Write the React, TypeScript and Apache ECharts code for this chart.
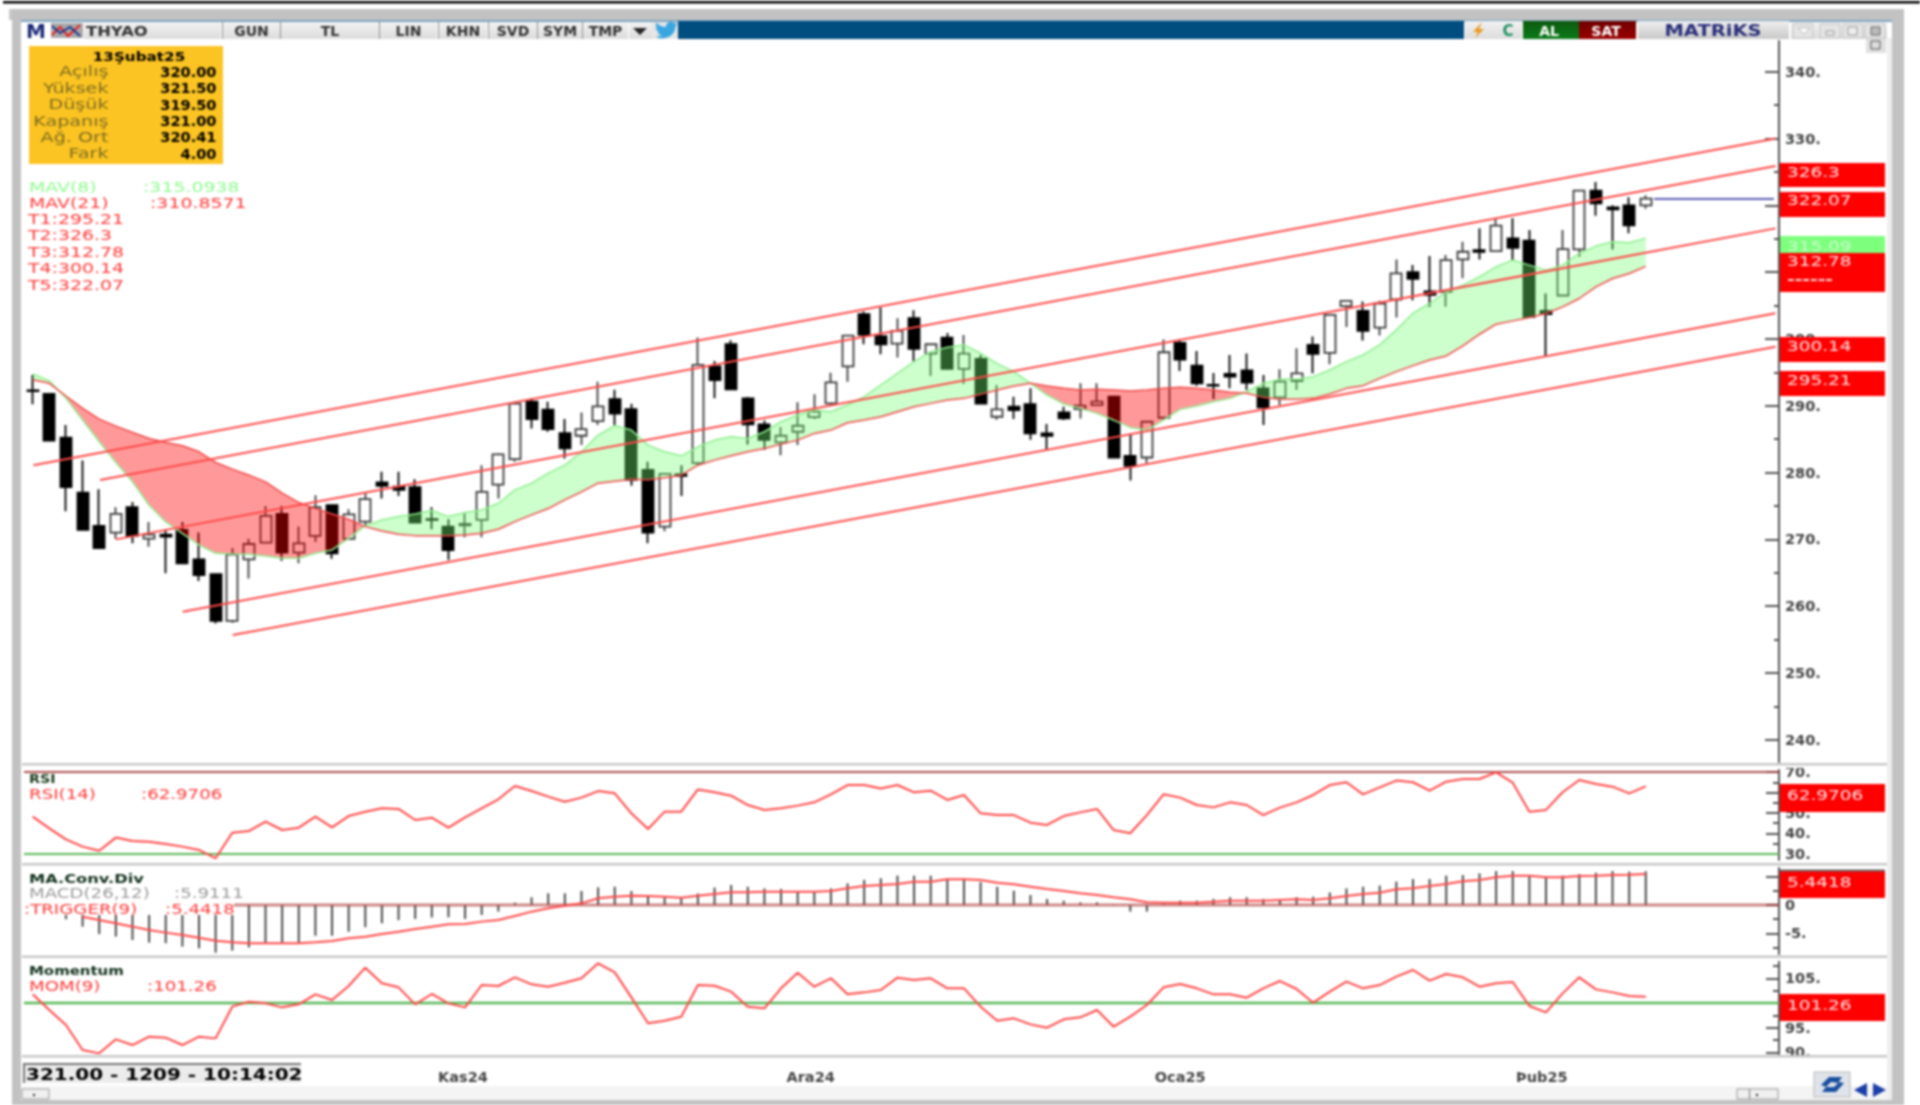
import React, { useEffect, useRef } from "react";
import * as echarts from "echarts";

// ---------- candle data, TL ----------
const opens = [292.3,291.75,285.2,277,272,271,274.8,270.1,270.7,271.4,267,264.8,257.8,267,269.5,273.8,268,270.5,275.1,270.05,272.64,278.5,277.9,277.8,273,271.9,272.1,272.9,278.2,282,290.6,289.4,285.9,285.5,287.7,291,289.5,280.4,271.9,279.7,281.4,295.9,299.2,291.1,287.2,284.5,286.1,288.3,290.35,295.9,303.7,300.4,299.3,303.1,297.8,300.2,295.5,297,288.35,289.85,290.25,285.85,289,289.5,290.1,291.35,282.5,282.25,288.2,299.4,296,293.1,294.75,295.3,292.6,291.25,293.7,299.1,297.9,304.9,304.2,301.7,305.9,310,307.1,307.05,311.9,313.3,313.15,315.05,314.7,304.2,306.5,313.4,322.2,319.7,320,320];
const highs = [294.6,291.8,287.1,281.8,277.5,274.8,275.6,272.6,271.4,272.6,271,264.9,268.7,270.1,275,275,271.9,276.6,275.2,274.5,276.9,280.1,280.1,279,274.8,273,273.9,281.1,282.9,290.4,291.1,290.6,288,289,293.6,292.4,290.3,281.6,279.9,281.1,300.2,296.7,299.8,291.3,287.8,286.8,290.5,291.7,294.95,300.6,304.1,304.7,303.1,304.3,299.3,300.9,300.6,297.6,293.1,291.35,292.6,287.25,289.85,293.35,293.35,291.45,285.6,287.6,299.9,299.9,298.2,294.9,297.6,297.8,294.6,295.45,298.6,300.35,303.7,305.8,305.6,305.7,311.9,311.05,312.4,312.55,314.55,316.55,318.05,318.05,316.3,306.8,316.3,322.3,323.5,320,321.2,321.5];
const lows = [290.2,284.7,274.2,271.4,268.7,270.1,269.4,268.9,264.9,266.3,263.75,257.4,257.5,264.15,269.4,266.8,266.4,269.6,267.1,270,271.9,276.1,276.5,272.5,271.5,266.9,270.3,270.3,276.1,281.6,286.6,286.1,282.1,284.1,287.1,287.1,278,269.4,271.2,276.5,281.1,291.1,292.3,284.2,283.4,282.6,284.1,288,290.1,293.6,299.2,297.7,297.2,296.7,294.45,295.5,293.25,290.3,287.9,288,284.9,283.35,287.85,288.1,289.95,282.2,278.8,281.4,288.2,295.2,293,291,292.6,292.35,287.1,290.1,292.35,294.85,296.2,301.8,299.75,300.5,303.2,305.8,304.8,304.8,309.1,311.9,313.1,311.7,303.3,297.4,306.4,312.3,318.45,313.4,315.8,319.5];
const closes = [292.2,284.76,277.8,271.4,268.7,273.8,270.5,270.7,270.4,266.4,264.65,257.8,267.7,269.3,273.5,268,269.4,274.8,267.9,273.74,276,278,277.4,272.5,272.9,268.4,272.3,277.1,282.7,290.3,288,286.5,283.6,286.5,289.9,288.8,278.9,271,279.8,279.5,296.1,293.85,292.45,287.2,284.9,285.5,287,289.1,293.5,300.5,300.6,299.2,301.2,298.5,299.2,295.5,297.8,290.3,289.45,289.35,285.85,285.5,288.1,290,290.6,282.25,281,287.6,298,296.9,293.35,293,294.35,293.45,289.75,293.6,294.85,297.75,303.6,305.7,301.2,305.3,309.8,309,306.6,311.8,313.05,313.05,316.95,313.65,303.3,303.7,313.45,322.2,320.3,319.4,317,321];

const mav8 = [294.75,293.75,291.1,287.85,284.6,281.5,278.6,275.1,272.6,270.9,269.15,267.9,267.8,267.75,267.5,267.15,267.15,267.9,268.4,270.15,272.05,272.9,273.4,273.8,274.3,273.4,274,274.4,275.4,277.4,278.4,279.9,281.1,283.1,285.6,287,286.35,284.1,283.1,282.5,283.85,284.85,285.35,285.1,286.1,287.6,288.6,289.35,289.1,290.1,291.35,293.1,294.85,296.6,298.1,298.75,299.1,297.85,296.3,295.1,293.35,291.6,290.25,289.6,288.85,287.85,286.75,286.35,287.85,289.45,289.95,290.6,291.1,292.1,293.35,293.95,293.95,294.35,295.35,296.6,297.6,299.1,301.35,303.85,305.3,307.05,308.05,309.3,310.8,311.8,311.05,310.3,311.05,312.8,313.9,314.55,314.4,315.09];
const mav21 = [293.9,293.35,291.45,289.6,288,286.95,286,285.1,284.5,284,283.1,281.5,280.5,279.6,278.6,276.9,275.5,274.6,273.8,273,271.9,271.25,270.75,270.55,270.55,270.55,270.65,270.9,271.5,272.65,273.65,274.6,275.9,277.1,278.4,278.7,279,278.9,279.2,279.6,281.1,281.85,282.5,283.1,283.6,284.25,284.85,285.85,286.35,287.45,287.85,288.35,289.1,289.85,290.35,290.85,291.1,291.7,292.35,292.95,293.35,292.95,292.6,292.35,292.45,292.35,292.2,292.35,292.6,292.75,292.6,292.35,292,291.85,291.25,290.95,290.95,291.1,291.75,292.6,293,294.1,295.1,296,296.85,297.45,298.95,300.7,302.2,302.7,303.2,303.8,304.8,306.05,307.8,309.05,309.8,310.86];

// trend channels: [index, price] end points
const trendT5 = [[0.04,281.1],[104.8,330]];
const trendT2 = [[4.05,278.87],[104.8,325.9]];
const trendT3 = [[5,269.99],[104.8,316.55]];
const trendT4 = [[9.02,259.16],[104.8,303.83]];
const trendT1 = [[12.03,255.67],[104.8,298.83]];
const lastPriceLine = [[97.5,320.95],[104.7,320.95]];

const rsi = [48.2,42.5,37.15,33.6,31.6,38,36.35,36,34.9,33.6,32,27.9,40.4,41.2,45.8,41.7,42.85,48.2,43,48.5,50.65,52.3,52,46.6,47.7,42.85,47.9,52.3,56.7,63.2,60.7,58,55.5,57.5,60.7,59.6,49.85,42.2,50.65,50.65,61.5,60.1,58.45,53.9,51.5,52.3,53.6,55.2,59.1,63.65,63.65,62,63.65,60.1,60.9,56.35,58.8,49.85,49,49,45.3,44.15,48.5,50.3,52,41.7,40.1,49,59.1,57.5,53.9,52.75,55.2,53.9,49,52.6,55.2,58.8,63.65,65,59.1,62.5,65.8,65,60.9,65.3,66.6,66.6,69.85,64.8,50.65,51.5,60.1,66.1,64.15,62.85,59.6,62.97];
const macd = [null,null,-2.5,-3.8,-5.1,-5.55,-6.15,-6.6,-6.7,-7.3,-7.6,-8.35,-8,-7.45,-6.7,-6.6,-6.6,-5.4,-5.4,-4.7,-3.9,-3.2,-2.65,-2.45,-2.2,-2.15,-2.45,-1.75,-1.15,0.4,1.35,2.05,2.05,2.45,3.1,3.2,2.45,1.45,1.35,1.35,2,3.05,3.5,3.2,2.9,2.8,2.45,2.35,2.9,3.8,4.4,4.7,5.15,5.15,5.15,4.55,4.55,4,3.2,2.5,1.75,1.05,0.75,0.45,0.45,-0.1,-1.15,-1.15,0.15,0.75,0.75,1.05,1.35,1.35,1.05,1.05,1.35,1.45,2.2,2.9,3.2,3.4,4.1,4.55,4.55,5.15,5.25,5.55,5.95,5.95,5.25,4.95,5.15,5.4,5.65,5.95,5.85,5.91];
const trigger = [null,null,null,-2.05,-2.63,-3.22,-3.8,-4.39,-4.85,-5.26,-5.73,-6.26,-6.55,-6.73,-6.73,-6.73,-6.73,-6.55,-6.32,-5.85,-5.56,-5.09,-4.68,-4.21,-3.8,-3.39,-3.33,-2.92,-2.63,-1.93,-1.17,-0.58,-0.12,0.29,1.17,1.46,1.64,1.58,1.46,1.29,1.64,1.93,2.22,2.22,2.34,2.34,2.34,2.34,2.46,2.92,3.33,3.51,3.68,4.09,4.09,4.5,4.5,4.39,3.92,3.63,3.22,2.81,2.46,2.05,1.75,1.35,0.99,0.47,0.41,0.41,0.41,0.58,0.76,0.76,0.76,0.88,0.99,0.88,1.17,1.58,1.93,2.16,2.75,2.92,3.33,3.68,4.15,4.39,4.85,5.15,5.15,4.85,4.85,5.09,5.15,5.26,5.32,5.44];
const momentum = [101.75,98.57,95.53,90.46,89.78,92.62,91.47,93.16,92.96,91.47,93.16,92.82,99.25,100.26,99.92,99.11,99.72,101.75,100.6,103.44,107.16,103.98,103.17,99.72,101.82,99.92,99.11,103.64,103.44,105.2,103.78,103.3,104.1,105,108.04,106.21,101.14,95.87,96.41,97.22,103.64,103.5,102.29,99.25,98.91,102.97,106.14,103.3,105,101.75,102.15,102.63,105.13,104.66,105,102.97,102.97,99.25,96.41,96.88,95.66,94.99,96.68,97.08,98.57,95.19,97.22,99.58,103.17,103.84,102.97,101.75,101.75,101.07,102.97,104.45,102.83,100.06,102.29,104.32,102.97,103.64,105.33,106.68,104.52,105.87,105.2,103.3,103.98,104.25,99.38,98.1,101.95,105.2,102.76,102.15,101.41,101.26];

// ---------- tick labels ----------
const priceTicks = [240,250,260,270,280,290,300,310,320,330,340];
const priceMinor = [245,255,265,275,285,295,305,315,325,335];
const rsiTicks = [30,40,50,60,70];
const rsiMinor = [35,45,55,65];
const macdTicks = [-5,0,5];
const macdMinor = [-7.5,-2.5,2.5];
const momTicks = [90,95,100,105];
const momMinor = [92.5,97.5,102.5,107.5];
const dateTicks = [25.87,46.78,69,90.75];
const dateLabels = ["Kas24","Ara24","Oca25","Þub25"];

const infoTitle = "13Şubat25";
const infoLabels = ["Açılış","Yüksek","Düşük","Kapanış","Ağ. Ort","Fark"];
const infoValues = ["320.00","321.50","319.50","321.00","320.41","4.00"];
const toolbarButtons: [string, number, number][] = [["GUN",223,57],["TL",281,98],["LIN",380,57],["KHN",439,48],["SVD",489,48],["SYM",538,44],["TMP",583,45]];

const FONT = '"DejaVu Sans"';
const XMIN = -0.523, XMAX = 105.01;
const RED_TEXT = "#ff3a3a";
const RED_LINE = "#ff4848";

echarts.graphic.registerShape("bird", echarts.graphic.extendPath("M23.95 4.57a10 10 0 0 1-2.82.77 4.96 4.96 0 0 0 2.16-2.72 9.9 9.9 0 0 1-3.12 1.18 4.92 4.92 0 0 0-8.38 4.48A13.98 13.98 0 0 1 1.64 3.16a4.92 4.92 0 0 0 1.52 6.57 4.9 4.9 0 0 1-2.23-.61v.06a4.92 4.92 0 0 0 3.95 4.83 5 5 0 0 1-2.21.08 4.93 4.93 0 0 0 4.6 3.42A9.87 9.87 0 0 1 0 19.54a13.94 13.94 0 0 0 7.55 2.21c9.06 0 14-7.5 14-14v-.64A10 10 0 0 0 24 4.59z", {}));

function rect(x: number, y: number, w: number, h: number, fill: any, z = 0, stroke?: string) {
  return { type: "rect", silent: true, z, shape: { x, y, width: w, height: h }, style: { fill, stroke: stroke || "none", lineWidth: stroke ? 1 : 0 } };
}
function txt(x: number, y: number, text: string, o: any = {}) {
  const size = o.size || 14;
  const align = o.align || "left";
  return { type: "text", silent: true, z: o.z ?? 60, x, y, scaleX: o.sx ?? 1.17, style: { text, x: 0, y: 0, fill: o.color || "#000", font: `${o.weight || "normal"} ${size}px ${FONT}`, align, textAlign: align, verticalAlign: "middle", textVerticalAlign: "middle" } };
}
const vGrad = (stops: [number, string][]) => ({ type: "linear", x: 0, y: 0, x2: 0, y2: 1, colorStops: stops.map(([offset, color]) => ({ offset, color })) });

function makeGraphics() {
  const g: any[] = [];
  // page furniture
  g.push(rect(3, 1, 1917, 2.5, "#000", -5));
  g.push(rect(9, 9, 1895, 11, "#c8c8c8", -5));
  g.push(rect(12, 9, 1892, 1096, "#c2c2c2", -5));
  g.push(rect(21, 20, 1871, 1080, "#ffffff", -4));
  g.push(rect(1887, 38, 5, 1062, "#eeeeee", -3));
  g.push(rect(21, 20, 1871, 2, "#7fa6c4", -3));
  // pane separators
  for (const y of [764, 864, 956.5, 1056]) g.push(rect(22, y - 1, 1865, 2.5, "#c8c8c8", 45));
  // toolbar
  const btn = vGrad([[0, "#f2f2f2"], [1, "#dcdcdc"]]);
  g.push(rect(21, 22, 31, 17, "#ffffff", 1));
  g.push(txt(36, 31, "M", { size: 20, weight: "bold", color: "#1c2a78", align: "center", sx: 1, z: 5 }));
  g.push(rect(51, 23, 32, 15, "#a8a8a8", 1));
  g.push({ type: "polyline", silent: true, z: 5, shape: { points: [[52, 35], [60, 27], [68, 36], [80, 25]] }, style: { stroke: "#e82020", lineWidth: 2, fill: "none" } });
  g.push({ type: "polyline", silent: true, z: 5, shape: { points: [[52, 26], [60, 33], [70, 27], [80, 36]] }, style: { stroke: "#1c3a90", lineWidth: 2, fill: "none" } });
  g.push(rect(84, 22, 137, 17, btn, 1));
  g.push(txt(86, 31, "THYAO", { size: 14, weight: "bold", color: "#333" }));
  toolbarButtons.forEach(([t, x, w]) => {
    g.push(rect(x, 22, w, 17, btn, 1));
    g.push({ type: "line", silent: true, z: 2, shape: { x1: x - 0.5, y1: 22, x2: x - 0.5, y2: 39 }, style: { stroke: "#8f8f8f", lineWidth: 1 } });
    g.push(txt(x + w / 2, 31, t, { size: 14, weight: "bold", color: "#333", align: "center", sx: 1 }));
  });
  g.push(rect(629, 22, 23, 17, btn, 1));
  g.push({ type: "polygon", silent: true, z: 5, shape: { points: [[633, 28], [647, 28], [640, 35]] }, style: { fill: "#222" } });
  g.push(rect(652, 22, 26, 17, "#e6e6e6", 1));
  g.push({ type: "bird", silent: true, z: 5, x: 655, y: 20, scaleX: 0.95, scaleY: 0.85, style: { fill: "#3aa6e0" } });
  g.push(rect(678, 21, 786, 18, "#004d80", 1));
  g.push(rect(1465, 21, 29, 18, btn, 1));
  g.push({ type: "polygon", silent: true, z: 5, shape: { points: [[1482, 22], [1473, 32], [1478, 32], [1475, 38], [1484, 29], [1479, 29]] }, style: { fill: "#e89a20" } });
  g.push(rect(1494, 21, 28, 18, btn, 1));
  g.push(txt(1508, 31, "C", { size: 15, weight: "bold", color: "#1d9060", align: "center", sx: 1 }));
  g.push(rect(1523, 21, 56, 18, vGrad([[0, "#0e5a0e"], [1, "#0a7a1a"]]), 1));
  g.push(txt(1549, 31, "AL", { size: 14, weight: "bold", color: "#ffffff", align: "center", sx: 1 }));
  g.push(rect(1579, 21, 57, 18, vGrad([[0, "#700000"], [1, "#990000"]]), 1));
  g.push(txt(1606, 31, "SAT", { size: 14, weight: "bold", color: "#ffffff", align: "center", sx: 1 }));
  g.push(rect(1638, 21, 151, 18, vGrad([[0, "#f0f0f0"], [1, "#c8c8c8"]]), 1));
  g.push(txt(1713, 31, "MATRiKS", { size: 15, weight: "bold", color: "#2a2f7a", align: "center", sx: 1.3 }));
  g.push(rect(1791, 22, 96, 17, btn, 1));
  for (const x of [1793, 1820, 1843, 1865]) g.push(rect(x, 24, 20, 14, "#e4e4e4", 2, "#c4c4c4"));
  g.push({ type: "polygon", silent: true, z: 5, shape: { points: [[1798, 28], [1810, 28], [1804, 34]] }, style: { fill: "#fff", stroke: "#bbb" } });
  g.push(rect(1826, 31, 8, 4, "#eee", 5, "#999"));
  g.push(rect(1848, 27, 9, 8, "#eee", 5, "#999"));
  g.push(rect(1871, 27, 9, 8, "#bbb", 5, "#666"));
  g.push(rect(1866, 39, 20, 14, "#e0e0e0", 5));
  g.push(rect(1871, 41, 9, 8, "#ddd", 6, "#555"));

  // info box
  g.push(rect(29, 46, 194, 118, "#fcc422", 50));
  g.push(txt(139, 56, infoTitle, { size: 13, weight: "bold", align: "center" }));
  infoLabels.forEach((t, i) => {
    const y = 72 + i * 16.4;
    g.push(txt(108.5, y, t, { size: 13.5, color: "#7d6c20", align: "right", sx: 1.42 }));
    g.push(txt(216.5, y, infoValues[i], { size: 13.5, weight: "bold", align: "right", sx: 1.08 }));
  });

  // main legend
  const wide = 1.35;
  g.push(txt(29, 187, "MAV(8)", { size: 14, color: "#90fa90", sx: wide }));
  g.push(txt(143, 187, ":315.0938", { size: 14, color: "#90fa90", sx: wide }));
  g.push(txt(29, 203, "MAV(21)", { size: 14, color: RED_TEXT, sx: wide }));
  g.push(txt(150, 203, ":310.8571", { size: 14, color: RED_TEXT, sx: wide }));
  ["T1:295.21", "T2:326.3", "T3:312.78", "T4:300.14", "T5:322.07"].forEach((t, i) => g.push(txt(28, 219.5 + i * 16.35, t, { size: 14, color: RED_TEXT, sx: wide })));

  // pane legends
  const pw = 1.3;
  g.push(txt(29, 778, "RSI", { size: 13, weight: "bold", color: "#1a3a1a", sx: 1.1 }));
  g.push(txt(29, 794, "RSI(14)", { size: 14, color: RED_TEXT, sx: pw }));
  g.push(txt(141, 794, ":62.9706", { size: 14, color: RED_TEXT, sx: pw }));
  g.push(rect(22, 868, 212, 47, "#ffffff", 44));
  g.push(txt(29, 878, "MA.Conv.Div", { size: 13, weight: "bold", color: "#10301a", sx: 1.25 }));
  g.push(txt(29, 893, "MACD(26,12)", { size: 14, color: "#9c9c9c", sx: pw }));
  g.push(txt(174, 893, ":5.9111", { size: 14, color: "#9c9c9c", sx: pw }));
  g.push(txt(24, 909, ":TRIGGER(9)", { size: 14, color: RED_TEXT, sx: pw }));
  g.push(txt(165, 909, ":5.4418", { size: 14, color: RED_TEXT, sx: pw }));
  g.push(txt(29, 970, "Momentum", { size: 13, weight: "bold", color: "#10301a", sx: 1.15 }));
  g.push(txt(29, 986, "MOM(9)", { size: 14, color: RED_TEXT, sx: pw }));
  g.push(txt(147, 986, ":101.26", { size: 14, color: RED_TEXT, sx: pw }));

  // right value flags
  const flags: [number, number, string, number][] = [[163, 24, "326.3", 172], [192, 25, "322.07", 200.5], [253, 39, "312.78", 261.5], [337, 25, "300.14", 346], [371, 25, "295.21", 380], [784, 28, "62.9706", 795], [871, 27, "5.4418", 882], [994, 27, "101.26", 1005]];
  g.push(rect(1780, 236, 105, 28, "#7dff7d", 52));
  g.push(txt(1787, 246, "315.09", { size: 14, color: "#c8ffc8", z: 53, sx: 1.32 }));
  flags.forEach(([y, h, t, ty]) => {
    g.push(rect(1780, y, 105, h, "#ff0000", 54));
    g.push(txt(1787, ty, t, { size: 14, color: "#ffe4e4", z: 55, sx: 1.32 }));
  });
  g.push(rect(1780, 869.5, 105, 2, "#666", 54));
  g.push(txt(1787, 279, "------", { size: 14, weight: "bold", color: "#ffe4e4", z: 55, sx: 1.32 }));
  // label-cropping caps at the pane edges
  g.push(rect(1780, 761, 107, 7, "#ffffff", 44));
  g.push(rect(1780, 1056, 107, 6, "#ffffff", 44));

  // bottom strip
  g.push(rect(22, 1086, 1865, 14, "#f4f4f4", 1));
  g.push(rect(23, 1063, 278, 20, "#ececec", 50));
  g.push(rect(23, 1063, 278, 2, "#777", 51));
  g.push(rect(23, 1063, 2, 20, "#777", 51));
  g.push(txt(26, 1074, "321.00 - 1209 - 10:14:02", { size: 15.5, weight: "bold", sx: 1.29, z: 52 }));
  g.push(rect(22, 1089, 27, 10, "#f0f0f0", 2, "#999"));
  g.push(rect(33, 1094, 2, 2, "#222", 3));
  g.push(rect(1737, 1089, 41, 10, "#f0f0f0", 2, "#999"));
  g.push(rect(1749, 1089, 1, 10, "#777", 3));
  g.push(rect(1756, 1094, 2, 2, "#222", 3));
  g.push(rect(1814, 1072, 36, 25, "#dfe4ea", 2, "#b8b8b8"));
  g.push({ type: "polygon", silent: true, z: 5, shape: { points: [[1821, 1085], [1829, 1077], [1842, 1077], [1838, 1083], [1831, 1082], [1826, 1087]] }, style: { fill: "#1a4fa0" } });
  g.push({ type: "polygon", silent: true, z: 5, shape: { points: [[1844, 1083], [1836, 1092], [1822, 1092], [1826, 1087], [1834, 1087], [1839, 1082]] }, style: { fill: "#1a4fa0" } });
  g.push({ type: "polygon", silent: true, z: 5, shape: { points: [[1867, 1083], [1867, 1097], [1854, 1090]] }, style: { fill: "#1a3fa8" } });
  g.push({ type: "polygon", silent: true, z: 5, shape: { points: [[1873, 1083], [1873, 1097], [1886, 1090]] }, style: { fill: "#1a3fa8" } });
  return g;
}

// colour the MAV ribbon, splitting at each crossing
function ribbonSegments() {
  const segs: { up: boolean; a: number[][]; b: number[][] }[] = [];
  let cur: any = null;
  mav8.forEach((m, i) => {
    const up = m - mav21[i] >= 0;
    if (!cur) { cur = { up, a: [], b: [] }; segs.push(cur); }
    else if (cur.up !== up) {
      const d0 = mav8[i - 1] - mav21[i - 1], d1 = m - mav21[i];
      const t = d0 / (d0 - d1);
      const px = i - 1 + t, py = mav8[i - 1] + t * (m - mav8[i - 1]);
      cur.a.push([px, py]); cur.b.push([px, py]);
      cur = { up, a: [[px, py]], b: [[px, py]] };
      segs.push(cur);
    }
    cur.a.push([i, m]);
    cur.b.push([i, mav21[i]]);
  });
  return segs;
}

const pairs = (arr: (number | null)[]) => arr.map((v, i) => [i, v]).filter((p) => p[1] !== null);
const lineStyleBase = { symbol: "none", showSymbol: false, silent: true, animation: false };

// grid g holds the series and long ticks; overlay grid g + 4 holds the short ticks
function paneY(grid: number, min: number, max: number, major: number[], minor: number[], fmt: (v: number) => string, majorLen = 13, minorLen = 6) {
  const base = { type: "value", min, max, position: "right", scale: true, splitLine: { show: false }, silent: true };
  return [
    {
      ...base, gridIndex: grid,
      axisLine: { show: true, onZero: false, lineStyle: { color: "#555", width: 2 } },
      axisTick: { show: true, inside: true, length: majorLen, customValues: major, lineStyle: { color: "#555", width: 2 } },
      axisLabel: { show: true, inside: false, margin: 6, customValues: major, formatter: fmt, color: "#444", fontFamily: FONT, fontWeight: "bold", fontSize: 14.5, hideOverlap: false, showMinLabel: true, showMaxLabel: true },
    },
    {
      ...base, gridIndex: grid + 4,
      axisLine: { show: false, onZero: false },
      axisTick: { show: true, inside: true, length: minorLen, customValues: minor, lineStyle: { color: "#555", width: 2 } },
      axisLabel: { show: false },
    },
  ];
}

const dotFmt = (v: number) => (v === 0 ? "0" : `${v}.`);
const paneBoxes = [
  { left: 24, width: 1755, top: 41, height: 721 },
  { left: 24, width: 1755, top: 770, height: 90 },
  { left: 24, width: 1755, top: 868, height: 86 },
  { left: 24, width: 1755, top: 961.7, height: 92.3 },
];

export default function App() {
  const ref = useRef<HTMLDivElement>(null);
  useEffect(() => {
    const chart = echarts.init(ref.current!, undefined, { renderer: "svg" });
    const segs = ribbonSegments();
    const xAxis = [0, 1, 2, 3, 4, 5, 6, 7].map((i) => ({
      gridIndex: i, type: "value", min: XMIN, max: XMAX, position: "bottom",
      splitLine: { show: false }, axisLine: { show: false, onZero: false }, axisTick: { show: false },
      axisLabel: i === 3
        ? { show: true, margin: 15, customValues: dateTicks, color: "#444", fontWeight: "bold", fontFamily: FONT, fontSize: 14.5, formatter: (v: number) => dateLabels[dateTicks.indexOf(v)] ?? "" }
        : { show: false },
    }));
    const yAxis = [
      ...paneY(0, 236.66, 344.6, priceTicks, priceMinor, dotFmt, 14, 5),
      ...paneY(1, 27.07, 70.98, rsiTicks, rsiMinor, dotFmt),
      ...paneY(2, -8.6, 6.49, macdTicks, macdMinor, dotFmt),
      ...paneY(3, 89.65, 108.37, momTicks, momMinor, dotFmt),
    ];
    const trendSeries = [trendT5, trendT2, trendT3, trendT4, trendT1].map((d) => ({
      type: "line", ...lineStyleBase, xAxisIndex: 0, yAxisIndex: 0, z: 6, data: d, lineStyle: { color: RED_LINE, width: 2 },
    }));
    const flat = (x: number, y: number, color: string, width: number, grid: number, yIdx: number, z = 3, start = XMIN) => ({
      type: "line", ...lineStyleBase, xAxisIndex: grid, yAxisIndex: yIdx, z, data: [[start, y], [x, y]], lineStyle: { color, width },
    });
    const option: any = {
      animation: false,
      backgroundColor: "#ffffff",
      textStyle: { fontFamily: FONT },
      grid: [...paneBoxes, ...paneBoxes],
      xAxis,
      yAxis,
      graphic: { elements: makeGraphics() },
      series: [
        {
          type: "candlestick", xAxisIndex: 0, yAxisIndex: 0, z: 2, silent: true, barWidth: 11.5,
          encode: { x: 0, y: [1, 2, 3, 4] },
          data: opens.map((o, i) => [i, o, closes[i], lows[i], highs[i]]),
          itemStyle: { color: "#ffffff", color0: "#000000", borderColor: "#3c3c3c", borderColor0: "#000000", borderWidth: 1.8 },
        },
        {
          type: "custom", xAxisIndex: 0, yAxisIndex: 0, z: 3, silent: true,
          encode: { x: 0, y: 1 },
          data: segs.map((s) => [s.a[0][0], s.a[0][1]]),
          renderItem: (params: any, api: any) => {
            const s = segs[params.dataIndex];
            const pts = s.a.concat(s.b.slice().reverse()).map((p: number[]) => api.coord(p));
            return { type: "polygon", shape: { points: pts }, style: { fill: s.up ? "rgba(116,255,116,0.37)" : "rgba(255,0,0,0.40)", stroke: "none" } };
          },
        },
        { type: "line", ...lineStyleBase, xAxisIndex: 0, yAxisIndex: 0, z: 4, data: pairs(mav8), lineStyle: { color: "#90ee90", width: 1.5 } },
        { type: "line", ...lineStyleBase, xAxisIndex: 0, yAxisIndex: 0, z: 4, data: pairs(mav21), lineStyle: { color: "#f04848", width: 1.5 } },
        ...trendSeries,
        { type: "line", ...lineStyleBase, xAxisIndex: 0, yAxisIndex: 0, z: 6, data: lastPriceLine, lineStyle: { color: "#4444aa", width: 1.8 } },

        flat(XMAX, 70, "rgba(160,50,50,0.85)", 2, 1, 2),
        flat(XMAX, 30, "#58b858", 2, 1, 2),
        { type: "line", ...lineStyleBase, xAxisIndex: 1, yAxisIndex: 2, z: 5, data: pairs(rsi), lineStyle: { color: RED_LINE, width: 2 } },

        { type: "bar", xAxisIndex: 2, yAxisIndex: 4, z: 3, silent: true, barWidth: 2, data: pairs(macd), itemStyle: { color: "#4a4a4a" } },
        flat(XMAX, 0, "rgba(180,70,70,0.65)", 3, 2, 4, 4),
        { type: "line", ...lineStyleBase, xAxisIndex: 2, yAxisIndex: 4, z: 5, data: pairs(trigger), connectNulls: true, lineStyle: { color: RED_LINE, width: 2 } },

        flat(XMAX, 100, "#58b858", 2.5, 3, 6),
        { type: "line", ...lineStyleBase, xAxisIndex: 3, yAxisIndex: 6, z: 5, data: pairs(momentum), lineStyle: { color: RED_LINE, width: 2 } },
      ],
    };
    chart.setOption(option);
    return () => chart.dispose();
  }, []);
  return (
    <div
      ref={ref}
      style={{ position: "fixed", left: 0, top: 0, width: 1920, height: 1105, filter: "blur(0.8px)" }}
    />
  );
}
